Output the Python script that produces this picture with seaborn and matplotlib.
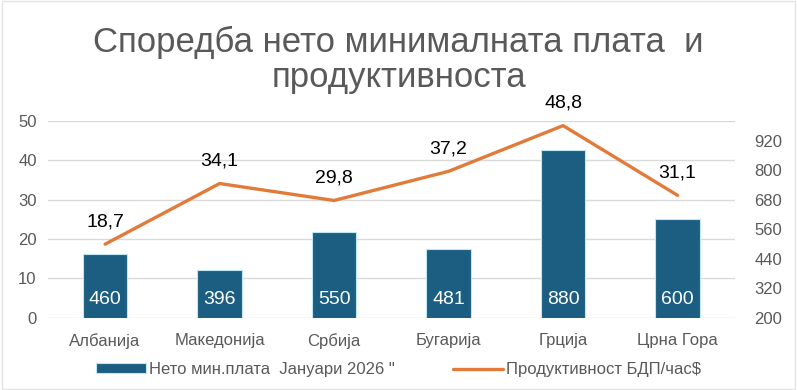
import matplotlib
matplotlib.use("Agg")
import matplotlib.pyplot as plt
import matplotlib.patches as mpatches
import seaborn as sns
import numpy as np
import pandas as pd

countries = ["Албанија", "Македонија", "Србија", "Бугарија", "Грција", "Црна Гора"]
min_wage = [460, 396, 550, 481, 880, 600]
productivity = [18.7, 34.1, 29.8, 37.2, 48.8, 31.1]
left_ticks = [0, 10, 20, 30, 40, 50]
right_ticks = [200, 320, 440, 560, 680, 800, 920]

title_lines = ["Споредба нето минималната плата  и", "продуктивноста"]
bar_label = "Нето мин.плата  Јануари 2026 \""
line_label = "Продуктивност БДП/час$"

BAR_C = "#1B5E82"
LINE_C = "#E27B3A"
GRAY = "#595959"

sns.set_theme(style="white")
plt.rcParams["font.family"] = ["Liberation Sans", "DejaVu Sans"]

df = pd.DataFrame({"country": countries, "wage": min_wage, "prod": productivity,
                   "pos": np.arange(len(countries))})

fig = plt.figure(figsize=(7.97, 3.90), dpi=100)
ax1 = fig.add_axes([0.060, 0.185, 0.862, 0.505])
ax2 = ax1.twinx()
ax3 = ax1.twinx()

# Left axis: grid and ticks
ax1.set_ylim(0, 50)
ax1.set_yticks(left_ticks)
ax1.grid(axis="y", color="#D9D9D9", linewidth=1)
ax1.tick_params(axis="y", labelsize=12, labelcolor=GRAY, length=0, pad=8)

# Bars on secondary axis
sns.barplot(data=df, x="pos", y="wage", ax=ax2, color=BAR_C, width=0.39,
            edgecolor="#BFE6F3", linewidth=0.8, saturation=1, label=bar_label)
ax2.set_ylim(200, 1000)
ax2.set_yticks(right_ticks)
ax2.tick_params(axis="y", labelsize=12, labelcolor=GRAY, length=0, pad=14)
for i, v in enumerate(min_wage):
    ax2.annotate(str(v), (i, 200), xytext=(0, 13), textcoords="offset points",
                 ha="center", va="center", color="white", fontsize=14)

# Line on a third axis sharing the left scale
sns.lineplot(data=df, x="pos", y="prod", ax=ax3, color=LINE_C, linewidth=2.4,
             label=line_label)
ax3.set_ylim(0, 50)
ax3.set_yticks([])
for i, v in enumerate(productivity):
    ax3.annotate(f"{v:.1f}".replace(".", ","), (i, v), xytext=(0, 10),
                 textcoords="offset points", ha="center", va="bottom",
                 color="black", fontsize=14)

for ax in (ax1, ax2, ax3):
    for s in ax.spines.values():
        s.set_visible(False)
    ax.set_xlim(-0.5, len(countries) - 0.5)
    ax.set_xlabel("")
    ax.set_ylabel("")
    if ax.get_legend() is not None:
        ax.get_legend().remove()

ax1.set_xticks(range(len(countries)))
ax1.set_xticklabels(countries)
ax1.tick_params(axis="x", labelsize=12, labelcolor=GRAY, length=0, pad=11)
ax2.tick_params(axis="x", labelbottom=False, length=0)
ax3.tick_params(axis="x", labelbottom=False, length=0)

h2, l2 = ax2.get_legend_handles_labels()
h3, l3 = ax3.get_legend_handles_labels()
fig.legend(h2 + h3, l2 + l3, loc="center", bbox_to_anchor=(0.5, 0.052), ncol=2,
           frameon=False, fontsize=12, labelcolor=GRAY, handlelength=3.0,
           handleheight=0.55, handletextpad=0.2, columnspacing=3.5)

fig.text(0.5, 0.892, title_lines[0], ha="center", va="center", fontsize=25,
         color=GRAY)
fig.text(0.5, 0.800, title_lines[1], ha="center", va="center", fontsize=25,
         color=GRAY)

fig.patches.append(mpatches.Rectangle((0.002, 0.003), 0.996, 0.994,
                                      transform=fig.transFigure, fill=False,
                                      edgecolor="#E3E3E3", linewidth=1))

fig.savefig("out.png", dpi=100)
